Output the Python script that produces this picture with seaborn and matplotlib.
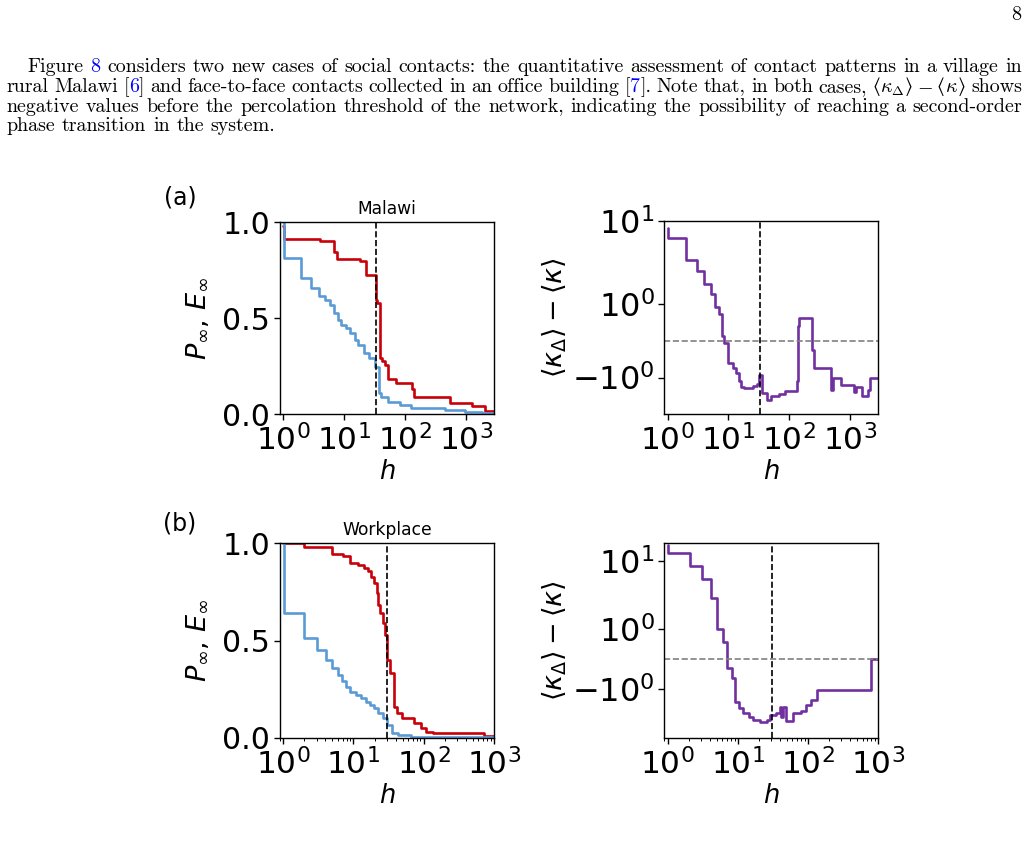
import re
import numpy as np
import matplotlib
matplotlib.use("Agg")
import matplotlib.pyplot as plt
import matplotlib.ticker as mticker
from matplotlib.transforms import IdentityTransform
import seaborn as sns

# ---- data (step curves, value holds from h to next h) ----
# (a) Malawi, left panel
h_red_a = [1.0, 1.03, 4.0, 6.8, 7.6, 18, 22.5, 33, 34.5, 38.8, 42, 46.8, 53, 70,
           132, 142, 551, 1260, 2090, 2920]
red_a = [0.98, 0.913, 0.903, 0.847, 0.809, 0.80, 0.726, 0.595, 0.578, 0.292, 0.278,
         0.257, 0.182, 0.161, 0.13, 0.092, 0.061, 0.043, 0.019, 0.019]
h_blue_a = [1.0, 1.03, 1.98, 2.9, 3.8, 4.8, 5.8, 6.8, 7.8, 9.0, 10.9, 12.4, 15, 17,
            21.3, 25.5, 32, 37, 40, 53, 82, 128, 457, 970, 1850, 2920]
blue_a = [1.0, 0.816, 0.708, 0.656, 0.618, 0.595, 0.569, 0.526, 0.491, 0.465, 0.448,
          0.422, 0.387, 0.361, 0.318, 0.292, 0.245, 0.109, 0.092, 0.066, 0.049, 0.035,
          0.023, 0.014, 0.005, 0.005]
# (a) Malawi, right panel
h_kap_a = [1.0, 1.03, 2.02, 3.0, 4.0, 5.07, 6.0, 7.1, 7.9, 8.6, 9.75, 11.8, 13.3, 14.7,
           16.1, 18.3, 25, 30, 32, 36, 42.5, 51, 68, 85, 133, 138, 146, 241, 256, 483,
           526, 705, 1170, 1240, 1600, 1970, 2100, 2920]
kap_a = [7.8, 5.53, 2.59, 1.90, 1.557, 1.28, 0.92, 0.74, 0.13, -0.055, -0.60, -0.74,
         -0.87, -1.10, -1.27, -1.28, -1.24, -1.17, -0.92, -1.42, -1.60, -1.51, -1.45,
         -1.36, -1.10, 0.40, 0.63, -0.26, -0.74, -1.33, -1.01, -1.19, -1.39, -1.27,
         -1.51, -1.33, -1.01, -1.01]

# (b) Workplace, left panel
h_red_b = [1.0, 1.97, 4.9, 7.05, 9.06, 11.5, 14.0, 16, 17.8, 19.9, 21.5, 22.7, 24.2,
           26.1, 28.2, 30.1, 33.6, 38.3, 41.8, 49, 73.5, 91.5, 108, 134, 730, 1005]
red_b = [1.0, 0.979, 0.945, 0.935, 0.90, 0.89, 0.871, 0.86, 0.828, 0.794, 0.743, 0.683,
         0.64, 0.588, 0.528, 0.40, 0.334, 0.16, 0.125, 0.10, 0.074, 0.048, 0.031,
         0.022, 0.010, 0.010]
h_blue_b = [1.0, 1.01, 1.97, 3.04, 4.1, 4.9, 6.0, 6.8, 7.9, 9.06, 10.9, 12.9, 15.1,
            17.4, 19.9, 22.7, 26, 30, 36, 42.6, 66, 1005]
blue_b = [1.0, 0.64, 0.511, 0.451, 0.40, 0.357, 0.322, 0.293, 0.262, 0.237, 0.22,
          0.202, 0.185, 0.168, 0.151, 0.125, 0.10, 0.065, 0.026, 0.014, 0.005, 0.005]
# (b) Workplace, right panel
h_kap_b = [1.0, 1.02, 2.06, 3.13, 4.2, 5.1, 6.2, 7.1, 8.3, 9.1, 10.4, 11.9, 14.5, 16.6,
           20.6, 25.7, 28.6, 34.9, 39.8, 41.8, 43.6, 49, 62, 79, 94, 112, 133, 786, 1005]
kap_b = [20.0, 14.4, 8.17, 4.62, 2.06, 0.99, 0.58, -0.28, -0.64, -1.42, -1.64, -1.79,
         -1.92, -2.09, -2.24, -2.03, -1.87, -1.79, -1.61, -1.92, -1.59, -2.12, -1.81,
         -1.72, -1.53, -1.37, -1.03, 0.0, 0.0]

h_crit = {"a": 33.5, "b": 30.5}
titles = {"a": "Malawi", "b": "Workplace"}

RED, BLUE, PURPLE = "#C8000A", "#5B9BD5", "#7030A0"
LINK = "#0000FF"

# ---- page text ({..} = blue link, <kappa> = the inline formula) ----
page_lines = [
    "Figure {8} considers two new cases of social contacts: the quantitative assessment of contact patterns in a village in",
    "rural Malawi [{6}] and face-to-face contacts collected in an office building [{7}]. Note that, in both cases, <kappa> shows",
    "negative values before the percolation threshold of the network, indicating the possibility of reaching a second-order",
    "phase transition in the system.",
]
# (text, extra space after in px)
kappa_parts = [("\u27e8", 0), (r"$\kappa_\Delta$", 0), ("\u27e9", 4), (r"$-$", 4),
               ("\u27e8", 0), (r"$\kappa$", 0), ("\u27e9", 0)]

sns.set_theme(style="ticks")
plt.rcParams["font.family"] = ["DejaVu Sans"]
plt.rcParams["mathtext.fontset"] = "dejavusans"
for k in ("text.color", "axes.labelcolor", "xtick.color", "ytick.color", "axes.edgecolor"):
    plt.rcParams[k] = "black"

W, H = 1028, 859
fig = plt.figure(figsize=(W / 100, H / 100), dpi=100)
fig.patch.set_facecolor("white")
renderer = fig.canvas.get_renderer()

TXT = 14.4


def make_text(s, y, color="black", family="cmr10"):
    return fig.text(0, H - y, s, transform=IdentityTransform(), fontsize=TXT,
                    family=family, math_fontfamily="cm", color=color,
                    va="baseline", ha="left")


def put_line(line, y, x0, x1=None):
    words = []
    for w in line.split(" "):
        parts = []
        if w == "<kappa>":
            for p, extra in kappa_parts:
                fam = "STIXGeneral" if p in ("\u27e8", "\u27e9") else "cmr10"
                parts.append((make_text(p, y, family=fam), extra))
        else:
            for p in re.split(r"(\{[^}]*\})", w):
                if not p:
                    continue
                color = "black"
                if p.startswith("{") and p.endswith("}"):
                    p, color = p[1:-1], LINK
                parts.append((make_text(p, y, color), 0))
        words.append(parts)
    widths = [[t.get_window_extent(renderer).width + e for t, e in ws] for ws in words]
    total = sum(sum(w) for w in widths)
    gap = TXT * 100 / 72 * 0.3333
    if x1 is not None:
        gap = (x1 - x0 - total) / (len(words) - 1)
    x = x0
    for ws, wd in zip(words, widths):
        for (t, e), w in zip(ws, wd):
            t.set_x(x)
            x += w
        x += gap


put_line(page_lines[0], 72.5, 27.3, 1022)
put_line(page_lines[1], 92.2, 6.7, 1022)
put_line(page_lines[2], 111.8, 6.7, 1022)
put_line(page_lines[3], 131.4, 6.7)
fig.text(1021, H - 20, "8", transform=IdentityTransform(), fontsize=TXT,
         family="cmr10", ha="right", va="baseline")


# ---- panels ----
def add_ax(x0, y0, x1, y1):
    return fig.add_axes([x0 / W, 1 - y1 / H, (x1 - x0) / W, (y1 - y0) / H])


def style(ax, xlim, minor):
    ax.set_xscale("log")
    ax.set_xlim(*xlim)
    ax.xaxis.set_major_locator(mticker.FixedLocator([1, 10, 100, 1000]))
    if minor:
        ax.xaxis.set_minor_locator(mticker.LogLocator(subs=np.arange(2, 10), numticks=20))
    else:
        ax.xaxis.set_minor_locator(mticker.NullLocator())
    ax.xaxis.set_minor_formatter(mticker.NullFormatter())
    ax.tick_params(axis="both", which="major", length=4, width=1,
                   direction="out", pad=3, color="black", labelcolor="black")
    ax.tick_params(axis="x", which="major", labelsize=22.5)
    ax.tick_params(axis="both", which="minor", length=2, width=0.7, color="black")
    for s in ax.spines.values():
        s.set_linewidth(1.0)
        s.set_color("black")
    ax.set_xlabel("$h$", fontsize=18.5, labelpad=2)


def left_panel(ax, key, hr, r, hb, b, xlim, minor):
    ax.set_xscale("log")
    sns.lineplot(x=hr, y=r, ax=ax, color=RED, lw=1.9, drawstyle="steps-post",
                 estimator=None, sort=False)
    sns.lineplot(x=hb, y=b, ax=ax, color=BLUE, lw=1.9, drawstyle="steps-post",
                 estimator=None, sort=False)
    ax.axvline(h_crit[key], color="black", ls="--", lw=1.2)
    style(ax, xlim, minor)
    ax.tick_params(axis="y", labelsize=21.5)
    ax.set_ylim(0, 1)
    ax.set_yticks([0, 0.5, 1.0])
    ax.yaxis.set_major_formatter(mticker.FormatStrFormatter("%.1f"))
    ax.set_ylabel(r"$P_{\infty}$, $E_{\infty}$", fontsize=19.5, labelpad=8)
    ax.set_title(titles[key], fontsize=12.3, pad=6)


def right_panel(ax, key, hk, k, xlim, ylim, minor):
    ax.set_xscale("log")
    ax.set_yscale("symlog", linthresh=2, linscale=1)
    sns.lineplot(x=hk, y=k, ax=ax, color=PURPLE, lw=1.9, drawstyle="steps-post",
                 estimator=None, sort=False)
    ax.axvline(h_crit[key], color="black", ls="--", lw=1.2)
    ax.axhline(0, color="gray", ls="--", lw=1.2)
    style(ax, xlim, minor)
    ax.tick_params(axis="y", labelsize=23)
    ax.set_ylim(*ylim)
    ax.yaxis.set_major_locator(mticker.FixedLocator([-1, 1, 10]))
    ax.yaxis.set_minor_locator(mticker.NullLocator())
    ax.set_ylabel(r"$\langle\kappa_{\Delta}\rangle - \langle\kappa\rangle$",
                  fontsize=19.5, labelpad=2)


ax1 = add_ax(280, 222.3, 494, 414.3)
left_panel(ax1, "a", h_red_a, red_a, h_blue_a, blue_a, (0.88, 2920), False)
ax2 = add_ax(664.3, 221, 878.3, 414.3)
right_panel(ax2, "a", h_kap_a, kap_a, (0.88, 2920), (-2.0, 10.0), False)
ax3 = add_ax(280, 543.3, 494, 737.7)
left_panel(ax3, "b", h_red_b, red_b, h_blue_b, blue_b, (0.9, 1005), True)
ax4 = add_ax(664.3, 543.3, 878.3, 737.7)
right_panel(ax4, "b", h_kap_b, kap_b, (0.9, 1005), (-4.4, 21.5), True)

for lab, y in (("(a)", 198), ("(b)", 523)):
    fig.text(180, H - y, lab, transform=IdentityTransform(), fontsize=17,
             ha="center", va="center")

fig.savefig("out.png", dpi=100, facecolor="white")
